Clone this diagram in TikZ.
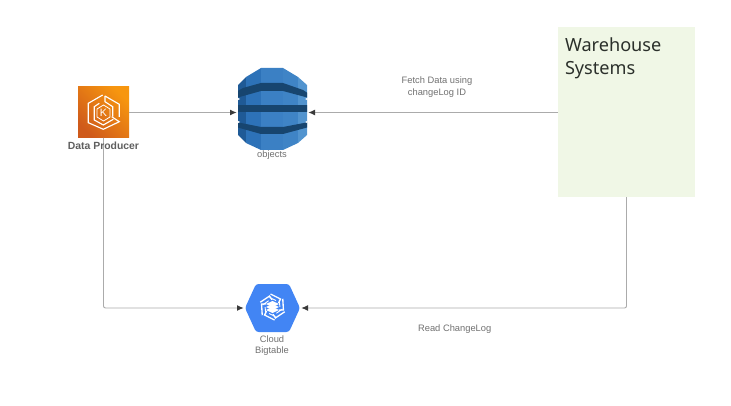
\documentclass[tikz,border=0pt]{standalone}
\usepackage{fontspec}
\setmainfont{Liberation Sans}
\newfontfamily\wsfont{Noto Sans}
\usetikzlibrary{arrows.meta,shapes.geometric}
\definecolor{linegray}{HTML}{ABABAB}
\definecolor{headgray}{HTML}{3A3A3A}
\definecolor{labelgray}{HTML}{707070}
\definecolor{wsgreen}{HTML}{F0F7E6}
\definecolor{wstext}{HTML}{2B302B}
\definecolor{ddbA}{HTML}{1F5A96}
\definecolor{ddbB}{HTML}{2D72B8}
\definecolor{ddbC}{HTML}{3B80C4}
\definecolor{ddbD}{HTML}{5294CF}
\definecolor{ddbband}{HTML}{17456F}
\definecolor{btblue}{HTML}{4285F4}
\definecolor{prodlow}{HTML}{CF5A1B}
\definecolor{prodhigh}{HTML}{F7960F}
\tikzset{
	conn/.style={draw=linegray, line width=0.7pt, rounded corners=1.5pt, shorten >=1pt,
		-{Latex[length=5pt,width=4.5pt,color=headgray]}},
	caption/.style={text=labelgray, font=\fontsize{7pt}{8.6pt}\selectfont, align=center, inner sep=0pt},
	hidden/.style={inner sep=0pt, outer sep=0pt},
	kube/.style={draw=white, line width=0.85pt, line join=miter},
	btline/.style={draw=white, line width=1pt, line join=miter}
}
\begin{document}
\begin{tikzpicture}[x=0.75pt, y=-0.75pt]
	\useasboundingbox (0, 0) rectangle (731, 406);

	% boxes
	\node[hidden, minimum width=38.25pt, minimum height=38.25pt, shading=axis,
		bottom color=prodlow, top color=prodhigh, shading angle=-45] (producer) at (103.5, 112.5) {};
	\node[hidden, minimum width=51.75pt, minimum height=55pt] (objects) at (272.5, 112.5) {};
	\node[hidden, minimum width=41.25pt, minimum height=36pt] (bigtable) at (272.5, 308) {};
	\node[hidden, fill=wsgreen, minimum width=102.75pt, minimum height=127.5pt] (warehouse) at (626.5, 112.2) {};

	% connectors
	\draw[conn] (producer.east) -- (objects.west);
	\draw[conn] (warehouse.west |- objects) -- (objects.east);
	\draw[conn] (producer.south) |- (bigtable.west);
	\draw[conn] (warehouse.south) |- (bigtable.east);

	% kubernetes mark
	\draw[kube] (102.7, 95) -- (88.3, 103.3) -- (88.3, 122.7) -- (103.3, 129.3) -- (119.3, 121.7) -- (111.7, 116.7);
	\draw[kube] (99.3, 103.3) -- (94.3, 106.7) -- (94.3, 120) -- (103.3, 125) -- (113.3, 119.3);
	\draw[kube] (105, 96) -- (119.3, 104.3) -- (119.3, 117);
	\draw[kube] (105, 96) -- (105, 101.7) -- (112.7, 106.7) -- (112.7, 116.7);
	\draw[kube, line width=0.6pt] (103.5, 105) -- (110, 109) -- (110, 117) -- (103.5, 121) -- (97, 117) -- (97, 109) -- cycle;
	\node[hidden, text=white, font=\fontsize{8pt}{8pt}\selectfont] (kubek) at (103.5, 113) {K};

	% dynamodb mark
	\begin{scope}
		\clip (261, 68) -- (283, 68) -- (298, 77) -- (307, 85) -- (307, 135) -- (298, 143) -- (283, 150)
			-- (261, 150) -- (246, 143) -- (238, 135) -- (238, 85) -- (246, 77) -- cycle;
		\fill[ddbA] (238, 60) rectangle (246, 155);
		\fill[ddbB] (246, 60) rectangle (261, 155);
		\fill[ddbC] (261, 60) rectangle (283, 155);
		\fill[ddbC!80!ddbD] (283, 60) rectangle (298, 155);
		\fill[ddbD] (298, 60) rectangle (310, 155);
		\fill[ddbband] (236, 92) -- (243, 88) -- (261, 83) -- (283, 83) -- (303, 90) -- (309, 94) -- (309, 98) -- (283, 91) -- (261, 91) -- (236, 98) -- cycle;
		\fill[ddbband] (236, 105.5) rectangle (309, 112);
		\fill[ddbband] (236, 122) -- (261, 127) -- (283, 127) -- (309, 122) -- (309, 127) -- (283, 134) -- (261, 134) -- (236, 127) -- cycle;
		\fill[white] (236, 97) -- (240, 99) -- (236, 101) -- cycle;
		\fill[white] (309, 97) -- (305, 99) -- (309, 101) -- cycle;
		\fill[white] (236, 120) -- (240, 122) -- (236, 124) -- cycle;
		\fill[white] (309, 120) -- (305, 122) -- (309, 124) -- cycle;
	\end{scope}

	% bigtable mark
	\fill[btblue, rounded corners=2pt] (245, 308) -- (256, 284) -- (289, 284) -- (300, 308) -- (289, 332) -- (256, 332) -- cycle;
	\foreach \ang in {0, 60, ..., 300} {
		\draw[btline, shift={(272.5, 307)}, rotate=\ang] (-2, -13) -- (8, -8) -- (6, -4);
		\draw[btline, shift={(272.5, 307)}, rotate=\ang, line width=0.7pt] (-3, -9.5) -- (3.5, -6.5);
	}
	\foreach \off in {-3, 0, 3} {
		\fill[white] (266, 307 + \off) -- (272.5, 304 + \off) -- (279, 307 + \off) -- (272.5, 310 + \off) -- cycle;
	}

	% labels
	\node[caption, font=\fontsize{7.8pt}{9pt}\selectfont\bfseries, text=labelgray!85!black] (producerlabel) at (103.5, 146) {Data Producer};
	\node[caption] (objectslabel) at (272, 155.5) {objects};
	\node[caption] (bigtablelabel) at (272, 345.5) {Cloud\\Bigtable};
	\node[caption] (fetchlabel) at (437, 87) {Fetch Data using\\changeLog ID};
	\node[caption] (readlabel) at (454.7, 329) {Read ChangeLog};
	\node[hidden, anchor=north west, align=left, text=wstext,
		font=\wsfont\fontsize{13.6pt}{17.2pt}\selectfont] (warehouselabel) at (565, 37.5) {Warehouse\\Systems};
\end{tikzpicture}
\end{document}
